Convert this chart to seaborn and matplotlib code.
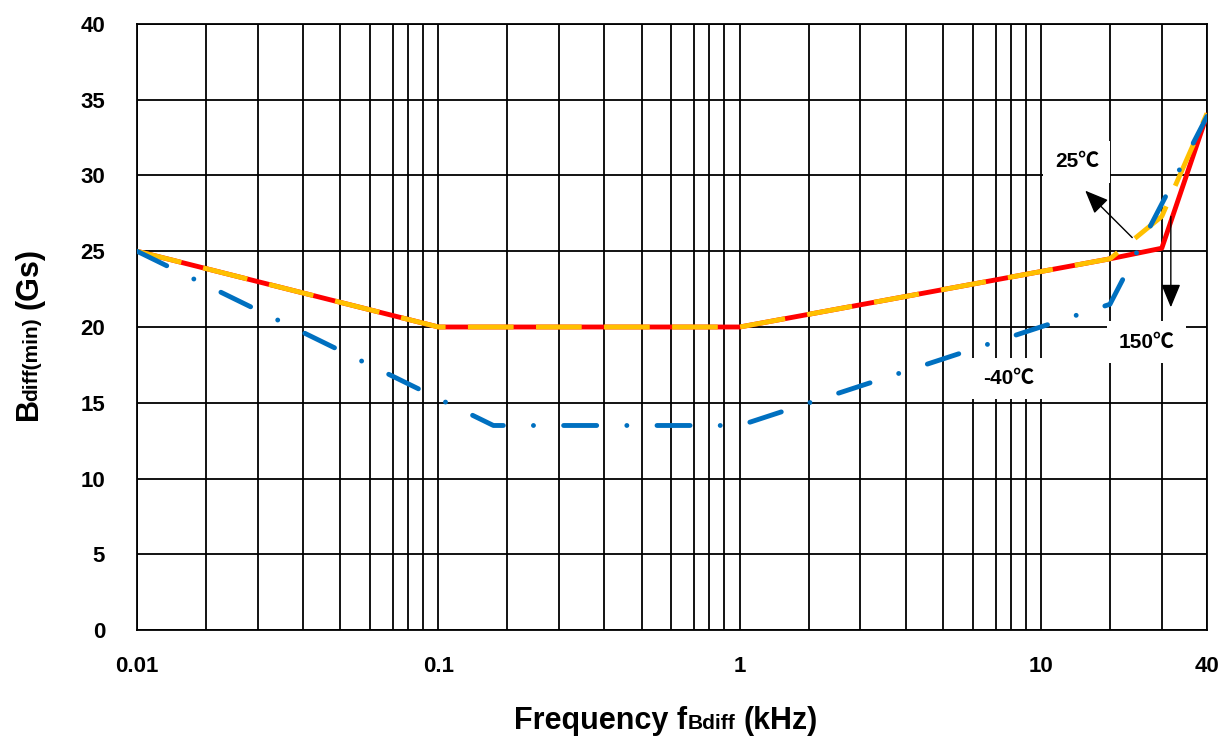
import numpy as np
import matplotlib
matplotlib.use("Agg")
import matplotlib.pyplot as plt
import matplotlib.transforms as mtransforms
from matplotlib.ticker import FixedLocator, NullFormatter
import seaborn as sns

# ---- data ---- #
freq_150 = [0.01, 0.1, 1, 20, 30, 40]
bdiff_150 = [25.0, 20.0, 20.0, 24.5, 25.2, 34.0]

freq_25 = [0.01, 0.1, 1, 20, 30, 40]
bdiff_25 = [25.0, 20.0, 20.0, 24.5, 27.3, 34.1]

freq_m40 = [0.01, 0.18, 1, 20, 40]
bdiff_m40 = [25.0, 13.5, 13.5, 21.5, 33.9]

x_ticks = [0.01, 0.1, 1, 10, 40]
x_tick_labels = ["0.01", "0.1", "1", "10", "40"]
y_ticks = [0, 5, 10, 15, 20, 25, 30, 35, 40]

# the reference's frequency axis is a "decade" axis whose minor gridlines
# (x2 .. x9) sit at these fractions of each decade
MANTISSA = np.arange(1, 11)
DECADE_FRAC = np.array([0, 0.228, 0.40, 0.55, 0.674, 0.773, 0.849, 0.899, 0.949, 1.0])


def decade_fwd(x):
    x = np.clip(np.asarray(x, dtype=float), 1e-12, None)
    d = np.floor(np.log10(x))
    m = x / 10.0 ** d
    return d + np.interp(m, MANTISSA, DECADE_FRAC)


def decade_inv(y):
    y = np.asarray(y, dtype=float)
    d = np.floor(y)
    m = np.interp(y - d, DECADE_FRAC, MANTISSA)
    return m * 10.0 ** d


def place_label(fig, parts, center, baseline, vertical=False):
    '''Draws a label made of pieces of different sizes on one baseline (pixel coords).'''
    renderer = fig.canvas.get_renderer()
    pieces = []
    for text, size, gap in parts:
        t = fig.text(0, 0, text, fontsize=size, fontweight="bold", color="black",
                     ha="left", va="baseline", rotation=90 if vertical else 0,
                     rotation_mode="anchor", transform=mtransforms.IdentityTransform())
        bb = t.get_window_extent(renderer)
        length = bb.height if vertical else bb.width
        pieces.append((t, length, gap * fig.dpi / 72.0))
    total = sum(length + gap for _, length, gap in pieces)
    pos = center - total / 2
    for t, length, gap in pieces:
        pos += gap
        t.set_position((baseline, pos) if vertical else (pos, baseline))
        pos += length


sns.set_style("white")
plt.rcParams["font.family"] = ["Liberation Sans", "Noto Sans CJK SC", "DejaVu Sans"]
plt.rcParams["font.weight"] = "bold"
for key in ("text.color", "axes.labelcolor", "xtick.color", "ytick.color"):
    plt.rcParams[key] = "black"

fig = plt.figure(figsize=(12.29, 7.42), dpi=100)
ax = fig.add_axes([0.1115, 0.1509, 0.8706, 0.8168])

lw = 3.5
sns.lineplot(x=freq_150, y=bdiff_150, ax=ax, color="#FF0000", lw=lw, zorder=4)
sns.lineplot(x=freq_25, y=bdiff_25, ax=ax, color="#FFC000", lw=lw,
             linestyle=(0, (9.4, 4.6)), zorder=5)
sns.lineplot(x=freq_m40, y=bdiff_m40, ax=ax, color="#0070C0", lw=lw,
             linestyle=(0, (6.8, 6.2, 0.01, 6.2)), dash_capstyle="round", zorder=6)

ax.set_xscale("function", functions=(decade_fwd, decade_inv))
ax.set_xlim(0.01, 40)
ax.set_ylim(0, 40)

minor = [m * d for d in (0.01, 0.1, 1) for m in range(2, 10)] + [20, 30]
ax.xaxis.set_major_locator(FixedLocator(x_ticks))
ax.xaxis.set_minor_locator(FixedLocator(minor))
ax.xaxis.set_minor_formatter(NullFormatter())
ax.set_xticklabels(x_tick_labels)
ax.set_yticks(y_ticks)

ax.set_axisbelow(True)
ax.grid(which="both", axis="both", color="black", lw=1.3)
for sp in ax.spines.values():
    sp.set_color("black")
    sp.set_linewidth(1.3)
ax.tick_params(axis="x", which="both", length=0, pad=19, labelsize=16)
ax.tick_params(axis="y", which="both", length=0, pad=23, labelsize=16)
ax.set_xlabel("")
ax.set_ylabel("")

# ---- temperature callouts ---- #
box = dict(boxstyle="square,pad=0.55", fc="white", ec="none")
ax.text(15.2, 30.9, "25℃", fontsize=15, ha="center", va="center", bbox=box, zorder=3)
ax.text(27.0, 19.0, "150℃", fontsize=15, ha="center", va="center", bbox=box, zorder=3)
ax.text(7.86, 16.6, "-40℃", fontsize=15, ha="center", va="center", bbox=box, zorder=3)

arrow = dict(arrowstyle="-|>,head_length=0.6,head_width=0.25", color="black",
             lw=1.0, mutation_scale=24, shrinkA=0, shrinkB=0)
ax.annotate("", xy=(16.4, 29.0), xytext=(24.3, 25.9), arrowprops=arrow, zorder=7)
ax.annotate("", xy=(32, 21.3), xytext=(32, 27.3), arrowprops=arrow, zorder=7)

# ---- axis titles with the small subscript-like parts ---- #
place_label(fig, [("Frequency f", 22, 0), ("Bdiff", 15, 0.5), ("(kHz)", 22, 6)],
            center=666, baseline=13)
place_label(fig, [("B", 22, 0), ("diff(min)", 15, -1.5), ("(Gs)", 22, 6)],
            center=408, baseline=37, vertical=True)

fig.savefig("out.png", dpi=100)
